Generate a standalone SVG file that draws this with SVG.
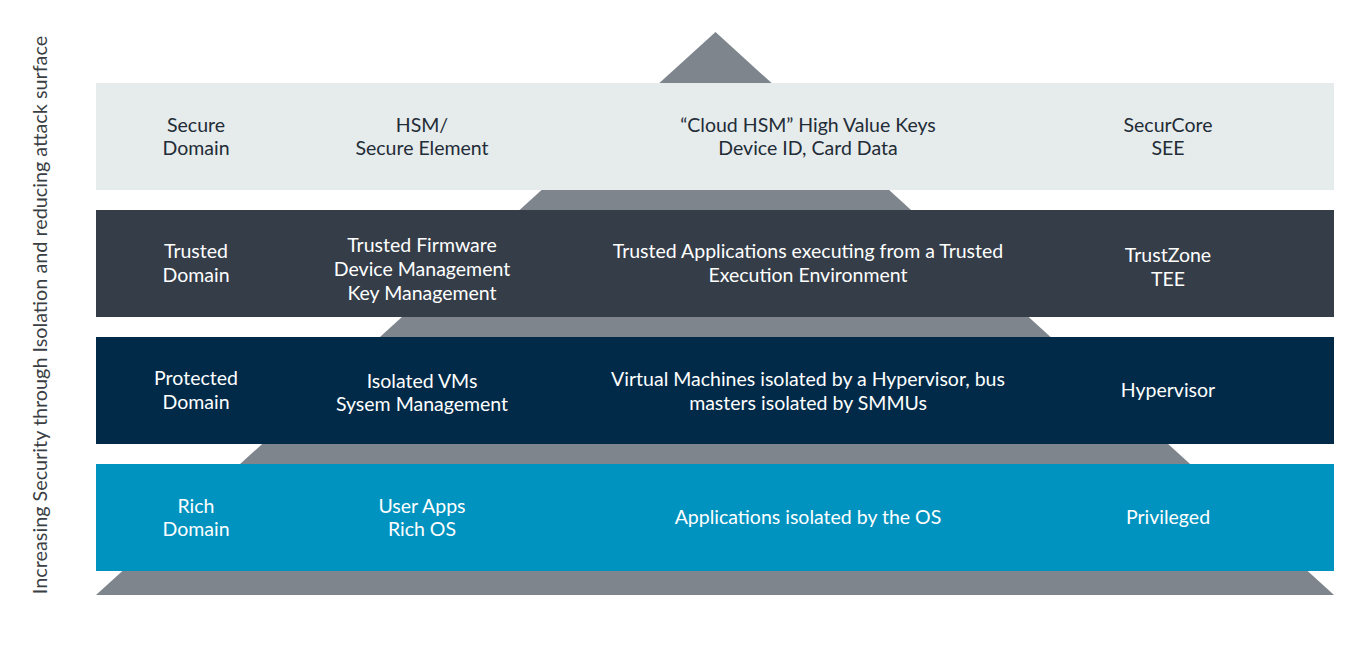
<svg xmlns="http://www.w3.org/2000/svg" width="1359" height="662" viewBox="0 0 1359 662">
<style>
  text { font-family: Lato, "Open Sans", "Liberation Sans", sans-serif; font-size: 19.5px; text-anchor: middle; }
  .dk { fill: #222c37; }
  .lt { fill: #ffffff; }
  .side { fill: #3b3f44; font-size: 19.8px; }
</style>
<rect width="1359" height="662" fill="#ffffff"/>
<g id="pyramid">
  <polygon points="715.5,32 96,595 1334,595" fill="#7e858c"/>
</g>
<g id="secure">
  <rect x="96" y="83" width="1238" height="107" fill="#e6ebeb"/>
  <text class="dk" x="196" y="131.5">Secure</text>
  <text class="dk" x="196" y="155">Domain</text>
  <text class="dk" x="422" y="131.5">HSM/</text>
  <text class="dk" x="422" y="155">Secure Element</text>
  <text class="dk" x="808" y="131.5">“Cloud HSM” High Value Keys</text>
  <text class="dk" x="808" y="155">Device ID, Card Data</text>
  <text class="dk" x="1168" y="131.5">SecurCore</text>
  <text class="dk" x="1168" y="155">SEE</text>
</g>
<g id="trusted">
  <rect x="96" y="210" width="1238" height="107" fill="#343d48"/>
  <text class="lt" x="196" y="258">Trusted</text>
  <text class="lt" x="196" y="282">Domain</text>
  <text class="lt" x="422" y="252">Trusted Firmware</text>
  <text class="lt" x="422" y="276">Device Management</text>
  <text class="lt" x="422" y="300">Key Management</text>
  <text class="lt" x="808" y="258">Trusted Applications executing from a Trusted</text>
  <text class="lt" x="808" y="282">Execution Environment</text>
  <text class="lt" x="1168" y="262">TrustZone</text>
  <text class="lt" x="1168" y="286">TEE</text>
</g>
<g id="protected">
  <rect x="96" y="337" width="1238" height="107" fill="#012a48"/>
  <text class="lt" x="196" y="385">Protected</text>
  <text class="lt" x="196" y="409">Domain</text>
  <text class="lt" x="422" y="388">Isolated VMs</text>
  <text class="lt" x="422" y="411">Sysem Management</text>
  <text class="lt" x="808" y="386">Virtual Machines isolated by a Hypervisor, bus</text>
  <text class="lt" x="808" y="410">masters isolated by SMMUs</text>
  <text class="lt" x="1168" y="397">Hypervisor</text>
</g>
<g id="rich">
  <rect x="96" y="464" width="1238" height="107" fill="#0093c0"/>
  <text class="lt" x="196" y="513">Rich</text>
  <text class="lt" x="196" y="536">Domain</text>
  <text class="lt" x="422" y="513">User Apps</text>
  <text class="lt" x="422" y="536">Rich OS</text>
  <text class="lt" x="808" y="524">Applications isolated by the OS</text>
  <text class="lt" x="1168" y="524">Privileged</text>
</g>
<g id="axis-label">
  <text class="side" transform="translate(47,315) rotate(-90)">Increasing Security through Isolation and reducing attack surface</text>
</g>
</svg>
